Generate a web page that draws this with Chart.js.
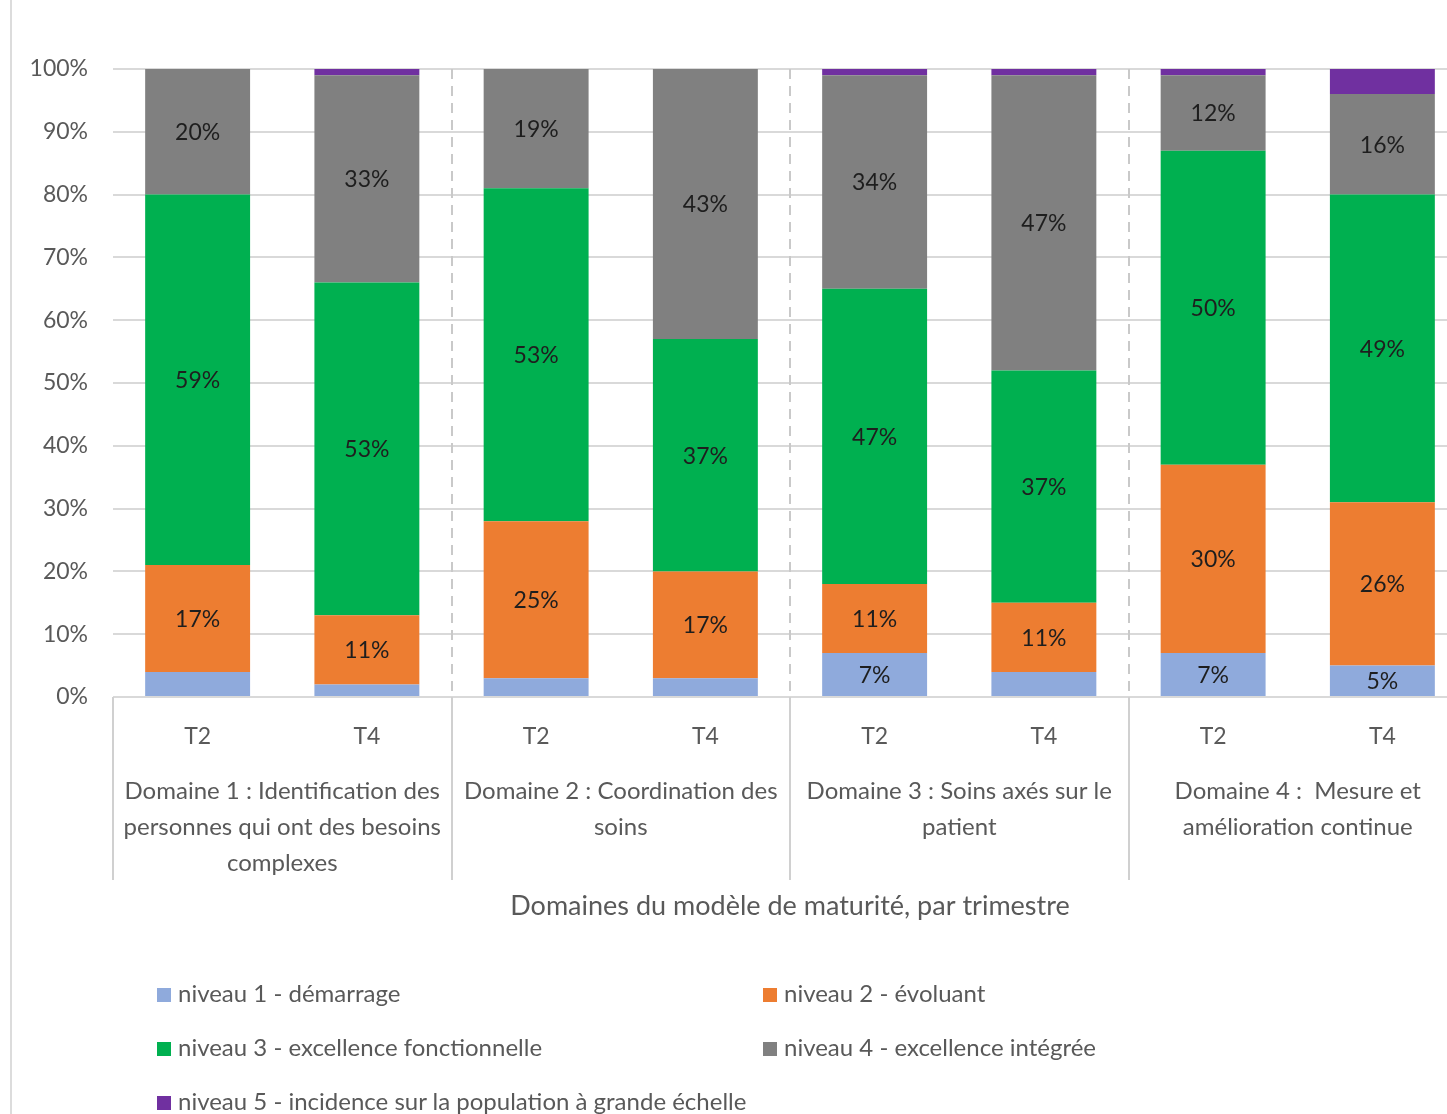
<!DOCTYPE html>
<html lang="fr">
<head>
<meta charset="UTF-8">
<title>Modèle de maturité</title>
<script src="https://cdn.jsdelivr.net/npm/chart.js@4.4.0/dist/chart.umd.min.js"></script>
<style>
    body {
        margin: 0;
        background: #ffffff;
        overflow: hidden;
        font-family: Lato, sans-serif;
    }
    #wrap {
        position: relative;
        width: 1447px;
        height: 1114px;
        overflow: hidden;
    }
    #myChart {
        position: absolute;
        left: 0;
        top: 0;
    }
    .leg {
        position: absolute;
        font-size: 24px;
        color: #595959;
        white-space: nowrap;
        line-height: 28px;
    }
    .leg span {
        display: inline-block;
        width: 14px;
        height: 14px;
        margin-right: 7px;
        vertical-align: 0px;
    }
</style>
</head>
<body>
<div id="wrap">
    <canvas id="myChart" width="1470" height="1114"></canvas>
    <div id="legend"></div>
</div>

<script type="text/javascript">
// trimestres (une barre chacun) et domaines (deux barres par domaine)
const trimestres = ["T2", "T4", "T2", "T4", "T2", "T4", "T2", "T4"];
const domaines = [
    ["Domaine 1 : Identification des", "personnes qui ont des besoins", "complexes"],
    ["Domaine 2 : Coordination des", "soins"],
    ["Domaine 3 : Soins axés sur le", "patient"],
    ["Domaine 4 :  Mesure et", "amélioration continue"]
];

// pourcentages par niveau
const niveau1 = [4, 2, 3, 3, 7, 4, 7, 5];
const niveau2 = [17, 11, 25, 17, 11, 11, 30, 26];
const niveau3 = [59, 53, 53, 37, 47, 37, 50, 49];
const niveau4 = [20, 33, 19, 43, 34, 47, 12, 16];
const niveau5 = [0, 1, 0, 0, 1, 1, 1, 4];

const nomsNiveaux = [
    "niveau 1 - démarrage",
    "niveau 2 - évoluant",
    "niveau 3 - excellence fonctionnelle",
    "niveau 4 - excellence intégrée",
    "niveau 5 - incidence sur la population à grande échelle"
];
const couleurs = ["#8faadc", "#ed7d31", "#00b050", "#808080", "#7030a0"];
const valeurs = [niveau1, niveau2, niveau3, niveau4, niveau5];

const police = "Lato, sans-serif";
const gris = "#595959";

var datasets = [];
for (var i = 0; i < valeurs.length; i++) {
    datasets.push({
        label: nomsNiveaux[i],
        data: valeurs[i],
        backgroundColor: couleurs[i],
        borderWidth: 0,
        barPercentage: 0.62,
        categoryPercentage: 1
    });
}

// étiquettes, séparateurs et libellés des domaines
const decor = {
    id: 'decor',
    beforeDatasetsDraw(chart) {
        const ctx = chart.ctx;
        const x = chart.scales.x;
        const area = chart.chartArea;
        ctx.save();
        ctx.strokeStyle = "#c9c9c9";
        ctx.lineWidth = 2;
        ctx.setLineDash([10, 7]);
        for (var d = 1; d < domaines.length; d++) {
            let sx = Math.round((x.getPixelForValue(2 * d - 1) + x.getPixelForValue(2 * d)) / 2);
            ctx.beginPath();
            ctx.moveTo(sx, area.top);
            ctx.lineTo(sx, area.bottom);
            ctx.stroke();
        }
        ctx.restore();
    },
    afterDatasetsDraw(chart) {
        const ctx = chart.ctx;
        ctx.save();
        ctx.font = "23px " + police;
        ctx.fillStyle = "#1e1e1e";
        ctx.textAlign = "center";
        ctx.textBaseline = "middle";
        chart.data.datasets.forEach(function (ds, i) {
            const meta = chart.getDatasetMeta(i);
            meta.data.forEach(function (bar, j) {
                if (ds.data[j] >= 5) {
                    ctx.fillText(ds.data[j] + "%", bar.x, (bar.y + bar.base) / 2 + 1);
                }
            });
        });
        ctx.restore();
    },
    afterDraw(chart) {
        const ctx = chart.ctx;
        const x = chart.scales.x;
        const area = chart.chartArea;
        const demi = (x.getPixelForValue(1) - x.getPixelForValue(0)) / 2;
        ctx.save();
        // cadre à gauche
        ctx.strokeStyle = "#dcdcdc";
        ctx.lineWidth = 2;
        ctx.beginPath();
        ctx.moveTo(11, 0);
        ctx.lineTo(11, chart.height);
        ctx.stroke();
        // traits verticaux sous l'axe
        ctx.strokeStyle = "#d0d0d0";
        for (var d = 0; d <= domaines.length; d++) {
            let sx = Math.round(x.getPixelForValue(2 * d) - demi);
            ctx.beginPath();
            ctx.moveTo(sx, area.bottom);
            ctx.lineTo(sx, 880);
            ctx.stroke();
        }
        // libellés des domaines
        ctx.font = "24px " + police;
        ctx.fillStyle = gris;
        ctx.textAlign = "center";
        ctx.textBaseline = "middle";
        domaines.forEach(function (lignes, d) {
            let cx = (x.getPixelForValue(2 * d) + x.getPixelForValue(2 * d + 1)) / 2;
            lignes.forEach(function (txt, k) {
                ctx.fillText(txt, cx, 791 + k * 36);
            });
        });
        ctx.restore();
    }
};

const config = {
    type: 'bar',
    data: {
        labels: trimestres,
        datasets: datasets
    },
    options: {
        responsive: false,
        animation: false,
        layout: {
            padding: { left: 0, right: 3, top: 69, bottom: 189 }
        },
        plugins: {
            legend: { display: false },
            tooltip: { enabled: false }
        },
        scales: {
            x: {
                stacked: true,
                grid: { display: false },
                border: { display: false },
                ticks: {
                    color: gris,
                    font: { family: police, size: 23 },
                    padding: 18,
                    maxRotation: 0
                },
                title: {
                    display: true,
                    text: "Domaines du modèle de maturité, par trimestre",
                    color: gris,
                    font: { family: police, size: 27 },
                    padding: { top: 0, bottom: 3 }
                },
                afterFit(scale) {
                    scale.height = 228;
                }
            },
            y: {
                stacked: true,
                min: 0,
                max: 100,
                grid: { color: "#d9d9d9", lineWidth: 2, drawTicks: false },
                border: { display: false },
                ticks: {
                    stepSize: 10,
                    color: gris,
                    font: { family: police, size: 23 },
                    padding: 25,
                    callback: function (v) { return v + "%"; }
                },
                afterFit(scale) {
                    scale.width = 113;
                }
            }
        }
    },
    plugins: [decor]
};

var myChart = new Chart(document.getElementById('myChart'), config);

// légende en deux colonnes
var legende = document.getElementById("legend");
var colonnes = [157, 763];
var rangees = [993, 1047, 1101];
for (var n = 0; n < nomsNiveaux.length; n++) {
    let item = document.createElement("div");
    item.className = "leg";
    item.style.left = colonnes[n % 2] + "px";
    item.style.top = (rangees[Math.floor(n / 2)] - 14) + "px";
    item.innerHTML = '<span style="background:' + couleurs[n] + '"></span>' + nomsNiveaux[n];
    legende.appendChild(item);
}
</script>
</body>
</html>
